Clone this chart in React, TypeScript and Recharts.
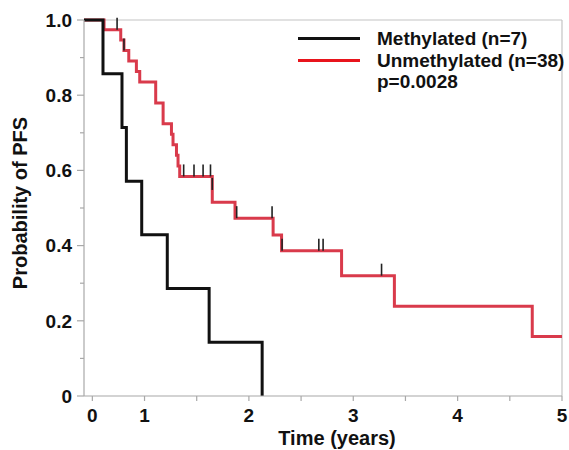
import React from "react";
import { ComposedChart, Line, Scatter, XAxis, YAxis, ReferenceLine, Label } from "recharts";

// time axis positions (years, as drawn on the reference axis)
const METH_TIMES = [0.42, 0.602, 0.784, 0.826, 0.973, 1.218, 1.619, 2.127];
const METH_SURV = [1, 0.857, 0.714, 0.571, 0.429, 0.286, 0.143, 0];

const UNMETH_TIMES = [0.42, 0.612, 0.772, 0.803, 0.849, 0.922, 0.954, 1.107, 1.178, 1.258, 1.273, 1.306, 1.321, 1.337, 1.649, 1.867, 2.232, 2.313, 2.888, 3.394, 4.715, 5.0];
const UNMETH_SURV = [1, 0.974, 0.947, 0.919, 0.891, 0.863, 0.835, 0.779, 0.724, 0.696, 0.668, 0.64, 0.612, 0.584, 0.515, 0.473, 0.428, 0.386, 0.32, 0.239, 0.158, 0.158];

// censored observations (unmethylated arm)
const CENSOR_TIMES = [0.737, 0.803, 1.375, 1.474, 1.561, 1.632, 1.649, 1.883, 2.222, 2.318, 2.67, 2.711, 3.271];
const CENSOR_SURV = [0.974, 0.919, 0.584, 0.584, 0.584, 0.584, 0.548, 0.473, 0.473, 0.386, 0.386, 0.386, 0.32];

const X_TICKS = [0.5, 1, 1.5, 2, 2.5, 3, 3.5, 4, 4.5, 5];
const Y_TICKS = [0, 0.1, 0.2, 0.3, 0.4, 0.5, 0.6, 0.7, 0.8, 0.9, 1.0];

const LEGEND = [
    { name: "Methylated (n=7)", color: "#111111" },
    { name: "Unmethylated (n=38)", color: "#e8141c" },
];
const P_VALUE = "p=0.0028";

const FONT = "'Liberation Sans', Arial, sans-serif";
const AXIS_GRAY = "#a8a8a8";

const methData = METH_TIMES.map((t, i) => ({ t, s: METH_SURV[i] }));
const unmethData = UNMETH_TIMES.map((t, i) => ({ t, s: UNMETH_SURV[i] }));
const censorData = CENSOR_TIMES.map((t, i) => ({ t, s: CENSOR_SURV[i] }));

function xLabel(v: number) {
    if (v === 0.5) return "0";
    return Number.isInteger(v) ? String(v) : "";
}

function YTick(props: any) {
    const { x, y, payload } = props;
    const r = Math.round(payload.value * 10);
    const major = r % 2 === 0;
    const text = r === 0 ? "0" : (r / 10).toFixed(1);
    return (
        <g>
            <line x1={x - (major ? 7 : 4)} x2={x} y1={y} y2={y} stroke={AXIS_GRAY} strokeWidth={1.2} />
            {major && (
                <text x={x - 12} y={y} dy="0.36em" textAnchor="end" fontFamily={FONT} fontWeight="bold" fontSize={19} fill="#111">
                    {text}
                </text>
            )}
        </g>
    );
}

function CensorMark(props: any) {
    const { cx, cy } = props;
    return <line x1={cx} x2={cx} y1={cy - 12} y2={cy} stroke="#222" strokeWidth={1.6} />;
}

export default function App() {
    return (
        <div style={{ position: "absolute", left: 0, top: 0, width: 569, height: 450, background: "#fff" }}>
            <ComposedChart width={569} height={450} margin={{ top: 20, right: 7, bottom: 0, left: 0 }}>
                <XAxis
                    type="number"
                    dataKey="t"
                    domain={[0.42, 5]}
                    ticks={X_TICKS}
                    tickFormatter={xLabel}
                    allowDataOverflow
                    height={54}
                    tickSize={5}
                    tickMargin={8}
                    axisLine={{ stroke: AXIS_GRAY, strokeWidth: 1.2 }}
                    tickLine={{ stroke: AXIS_GRAY, strokeWidth: 1.2 }}
                    tick={{ fontFamily: FONT, fontWeight: "bold", fontSize: 19, fill: "#111" }}
                >
                    <Label
                        content={({ viewBox }: any) => (
                            <text x={viewBox.x + viewBox.width / 2 + 14} y={viewBox.y + 42} dy="0.36em" textAnchor="middle" fontFamily={FONT} fontWeight="bold" fontSize={20} fill="#111">
                                Time (years)
                            </text>
                        )}
                    />
                </XAxis>
                <YAxis
                    type="number"
                    domain={[0, 1]}
                    ticks={Y_TICKS}
                    width={84}
                    tickSize={0}
                    tickMargin={0}
                    tickLine={false}
                    axisLine={{ stroke: AXIS_GRAY, strokeWidth: 1.2 }}
                    tick={<YTick />}
                    interval={0}
                >
                    <Label
                        content={({ viewBox }: any) => {
                            const cx = 20;
                            const cy = viewBox.y + viewBox.height / 2 - 5;
                            return (
                                <text x={cx} y={cy} dy="0.36em" transform={`rotate(-90 ${cx} ${cy})`} textAnchor="middle" fontFamily={FONT} fontWeight="bold" fontSize={20} fill="#111">
                                    Probability of PFS
                                </text>
                            );
                        }}
                    />
                </YAxis>
                <ReferenceLine y={1} stroke="#c4c4c4" strokeWidth={1.2} />
                <ReferenceLine x={5} stroke="#c4c4c4" strokeWidth={1.2} />
                <Line data={unmethData} dataKey="s" type="stepAfter" stroke="#d93a4b" strokeWidth={3} dot={false} isAnimationActive={false} />
                <Line data={methData} dataKey="s" type="stepAfter" stroke="#111111" strokeWidth={3} dot={false} isAnimationActive={false} />
                <Scatter data={censorData} dataKey="s" shape={<CensorMark />} isAnimationActive={false} />
            </ComposedChart>
            <div style={{ position: "absolute", left: 298, top: 28, fontFamily: FONT, fontWeight: "bold", fontSize: 19, color: "#111", lineHeight: "21.5px" }}>
                {LEGEND.map((item) => (
                    <div key={item.name} style={{ display: "flex", alignItems: "center", whiteSpace: "nowrap" }}>
                        <span style={{ display: "inline-block", width: 62, height: 3, background: item.color, marginRight: 17 }} />
                        {item.name}
                    </div>
                ))}
                <div style={{ paddingLeft: 79 }}>{P_VALUE}</div>
            </div>
        </div>
    );
}
